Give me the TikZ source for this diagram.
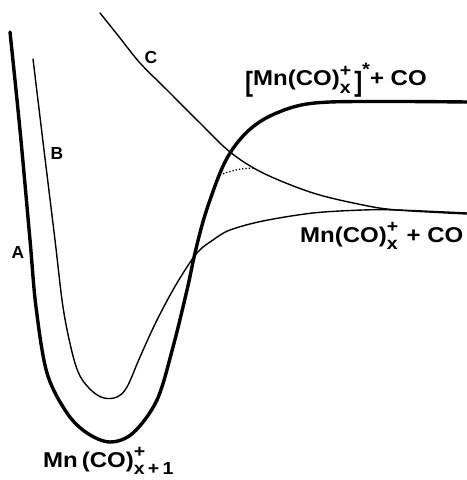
\documentclass[tikz,border=0pt]{standalone}
\usepackage{fontspec}
\usepackage{graphicx}
\setmainfont{Liberation Sans}
\newcommand\supsub[2]{{\fontsize{17.5}{17.5}\selectfont\makebox[0pt][l]{\raisebox{0.55em}{#1}}\raisebox{-0.45em}{#2}}}
\newcommand\tallbr[1]{\raisebox{-0.24em}{\scalebox{1}[1.3]{#1}}}
\newcommand\widetext[1]{\scalebox{1.12}[1]{#1}}
\begin{document}
\begin{tikzpicture}[x=1bp,y=-1bp,
  thickcurve/.style={line width=3.4bp, line cap=round, line join=round},
  thincurve/.style={line width=1.4bp, line cap=round, line join=round},
  lbl/.style={inner sep=0pt, font=\bfseries\fontsize{21.5}{22}\selectfont},
  letter/.style={inner sep=0pt, font=\bfseries\fontsize{17.5}{18}\selectfont}]
\useasboundingbox (0,0) rectangle (467,480);
% curve A
\draw[thickcurve] plot[smooth, tension=0.55] coordinates {
 (10,32) (20,130) (30,240) (36,307) (47,373) (67,413) (87,433) (110,442)
 (133,433) (157,400) (173,347) (187,290) (195,253) (205,215) (220,173)
 (232,150) (248,131) (268,117) (297,106) (330,102) (400,101.5) (467,102)};
% curve B
\draw[thincurve] plot[smooth, tension=0.55] coordinates {
 (33,59) (44,150) (55,240) (63,307) (72,352) (80,376) (92,391) (104,398)
 (117,397) (127,387) (140,357) (157,320) (177,283) (197,253) (213,240)
 (230,230) (263,221) (313,213) (363,210) (397,210) (467,213)};
% curve C
\draw[thincurve] plot[smooth, tension=0.55] coordinates {
 (100,13) (120,38) (140,63) (167,90) (200,123) (230,152) (263,173) (313,193)
 (363,205) (397,210) (467,214)};
% avoided crossing (dotted)
\draw[line width=1.3bp, dotted] (220,175) .. controls (232,170) and (244,168) .. (255,168);
% curve letters
\node[letter] (lA) at (18,253) {A};
\node[letter] (lB) at (57,154) {B};
\node[letter] (lC) at (151,58) {C};
% state labels
\node[lbl, anchor=base west] (top) at (245,86)
  {\widetext{\tallbr{[}Mn(CO)\supsub{+}{x}\hspace{0.15em}\tallbr{]}\raisebox{0.5em}{\fontsize{18}{18}\selectfont *}+ CO}};
\node[lbl, anchor=base west] (right) at (300,242)
  {\widetext{Mn(CO)\supsub{+}{x}\hspace{0.1em} + CO}};
\node[lbl, anchor=base west] (bottom) at (43,467)
  {\widetext{Mn\,(CO)\supsub{+}{x\,+\,1}}};
\end{tikzpicture}
\end{document}
